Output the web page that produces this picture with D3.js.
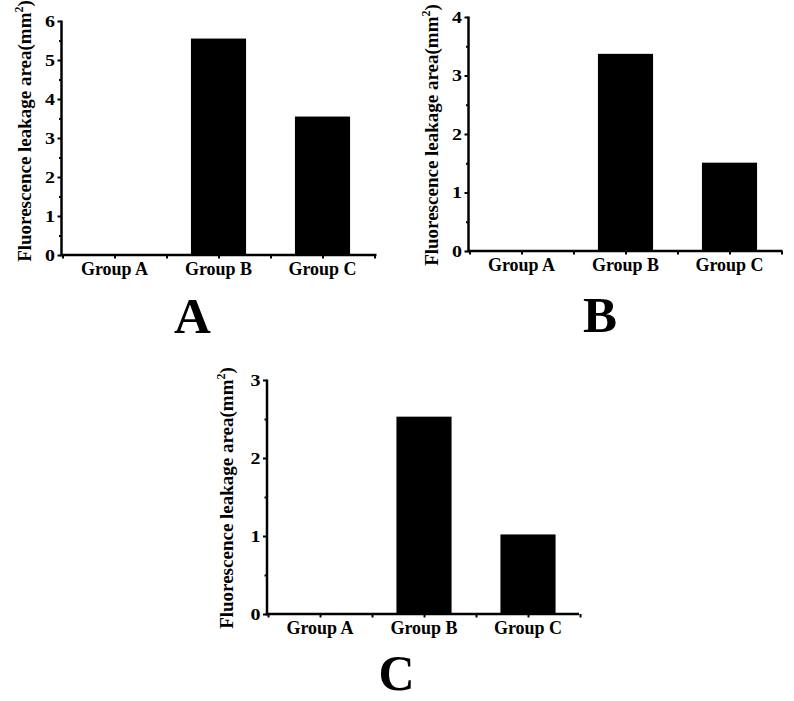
<!DOCTYPE html>
<html>
<head>
<meta charset="utf-8">
<script src="https://cdn.jsdelivr.net/npm/d3@7"></script>
<style>
  html, body { margin: 0; padding: 0; background: #fff; }
  svg { display: block; }
  text { font-family: "Liberation Serif", "Times New Roman", serif; font-weight: bold; fill: #000; }
</style>
</head>
<body>
<svg id="chart" width="794" height="701"></svg>
<script>
// ---- data ----
const categories = ["Group A", "Group B", "Group C"];
const valuesA = [0, 5.55, 3.55];
const valuesB = [0, 3.37, 1.51];
const valuesC = [0, 2.53, 1.02];
const ticksA = [0, 1, 2, 3, 4, 5, 6];
const ticksB = [0, 1, 2, 3, 4];
const ticksC = [0, 1, 2, 3];
const panelLetters = ["A", "B", "C"];
const yAxisTitle = "Fluorescence leakage area(mm";
const yAxisSup = "2";
const yAxisEnd = ")";

// ---- layout (positions only) ----
const layout = [
  { ax: 61.5, y0: 255, h: 234, w: 315, lblX: 31, lblY: 131, letterX: 192.5, letterY: 333, letterSize: 51 },
  { ax: 468.5, y0: 251, h: 234, w: 314, lblX: 437.5, lblY: 135, letterX: 600, letterY: 332, letterSize: 51 },
  { ax: 267, y0: 614, h: 234, w: 312, lblX: 233, lblY: 498, letterX: 396.5, letterY: 690, letterSize: 50 }
];
const panelValues = [valuesA, valuesB, valuesC];
const panelTicks = [ticksA, ticksB, ticksC];

const svg = d3.select("#chart");

layout.forEach((L, i) => {
  const vals = panelValues[i];
  const ticks = panelTicks[i];
  const ymax = d3.max(ticks);
  const g = svg.append("g");

  const y = d3.scaleLinear().domain([0, ymax]).range([L.y0, L.y0 - L.h]);
  const x = d3.scaleBand().domain(categories)
    .range([L.ax + 1, L.ax + 313]).paddingInner(0.47).paddingOuter(0.235);
  const xl = d3.scaleLinear().domain([0, categories.length]).range([L.ax + 1, L.ax + 313]);

  // bars
  g.selectAll("rect.bar").data(vals).join("rect")
    .attr("class", "bar")
    .attr("x", (d, j) => x(categories[j]))
    .attr("width", x.bandwidth())
    .attr("y", d => y(d))
    .attr("height", d => y(0) - y(d))
    .attr("fill", "#000");

  // y axis: major ticks
  const yMajor = g.append("g").attr("transform", `translate(${L.ax},0)`)
    .call(d3.axisLeft(y).tickValues(ticks).tickSize(4).tickPadding(2.5).tickFormat(d3.format("d")));
  yMajor.select(".domain").remove();
  yMajor.selectAll(".tick line").attr("stroke", "#000").attr("stroke-width", 2);
  yMajor.selectAll(".tick text")
    .style("font-size", "17px")
    .style("font-family", "'Liberation Serif', serif")
    .style("font-weight", "bold")
    .attr("textLength", 10)
    .attr("lengthAdjust", "spacingAndGlyphs");

  // y axis: minor ticks
  const minor = d3.range(0.5, ymax, 1);
  const yMinor = g.append("g").attr("transform", `translate(${L.ax},0)`)
    .call(d3.axisLeft(y).tickValues(minor).tickSize(2.5).tickFormat(""));
  yMinor.select(".domain").remove();
  yMinor.selectAll(".tick line").attr("stroke", "#000").attr("stroke-width", 2);

  // x axis ticks (centers and boundaries)
  const xt = d3.range(0, categories.length + 0.01, 0.5);
  const xAxisG = g.append("g").attr("transform", `translate(0,${L.y0})`)
    .call(d3.axisBottom(xl).tickValues(xt).tickSize(3.5).tickFormat(""));
  xAxisG.select(".domain").remove();
  xAxisG.selectAll(".tick line").attr("stroke", "#000").attr("stroke-width", 2);

  // category labels
  g.selectAll("text.cat").data(categories).join("text")
    .attr("class", "cat")
    .attr("x", d => x(d) + x.bandwidth() / 2)
    .attr("y", L.y0 + 20)
    .attr("text-anchor", "middle")
    .style("font-size", "18px")
    .text(d => d);

  // axis lines
  g.append("line").attr("x1", L.ax).attr("x2", L.ax)
    .attr("y1", y(ymax) - 0.5).attr("y2", L.y0 + 1.25)
    .attr("stroke", "#000").attr("stroke-width", 2.5);
  g.append("line").attr("x1", L.ax - 1.25).attr("x2", L.ax + L.w)
    .attr("y1", L.y0).attr("y2", L.y0)
    .attr("stroke", "#000").attr("stroke-width", 2.5);

  // y axis title
  const t = g.append("text")
    .attr("transform", `translate(${L.lblX},${L.lblY}) rotate(-90)`)
    .attr("text-anchor", "middle")
    .style("font-size", "19px");
  t.append("tspan").text(yAxisTitle);
  t.append("tspan").attr("dy", -8).style("font-size", "12px").text(yAxisSup);
  t.append("tspan").attr("dy", 8).text(yAxisEnd);

  // panel letter
  g.append("text")
    .attr("x", L.letterX).attr("y", L.letterY)
    .attr("text-anchor", "middle")
    .style("font-size", L.letterSize + "px")
    .text(panelLetters[i]);
});
</script>
</body>
</html>
